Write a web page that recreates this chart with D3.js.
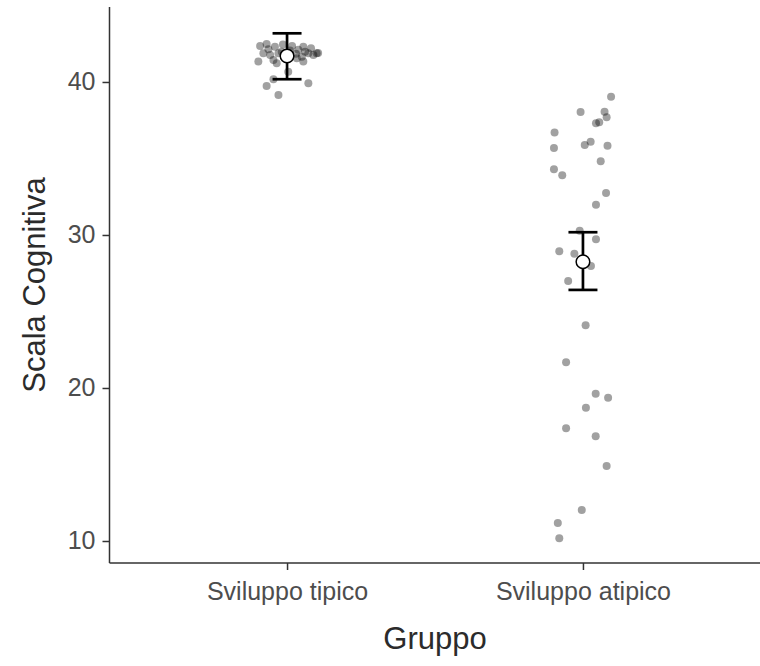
<!DOCTYPE html>
<html>
<head>
<meta charset="utf-8">
<script src="https://cdn.jsdelivr.net/npm/d3@7"></script>
<style>
  html, body { margin: 0; padding: 0; background: #fff; }
  svg { display: block; }
</style>
</head>
<body>
<svg id="chart" width="760" height="666"></svg>
<script>
// ---- data ----
const categories = ["Sviluppo tipico", "Sviluppo atipico"];
const yTicks = [10, 20, 30, 40];
const xTitle = "Gruppo";
const yTitle = "Scala Cognitiva";

const tipicoValues = [42.35, 42.48, 42.30, 41.87, 41.76, 41.87, 41.44, 41.33, 41.22, 40.67,
  42.30, 42.10, 41.87, 41.87, 41.76, 41.33, 41.55, 42.05, 41.70, 40.17,
  39.74, 39.91, 39.15, 42.14, 41.98, 41.98, 41.65, 42.35, 42.45, 42.20, 41.85, 41.90];
const tipicoJitter = [-0.091, -0.069, -0.041, -0.080, -0.057, -0.029, -0.046, -0.097, -0.035, 0.004,
  0.055, 0.038, 0.072, 0.100, 0.089, 0.055, 0.033, 0.010, -0.007, -0.046,
  -0.069, 0.072, -0.029, -0.063, -0.018, 0.061, 0.050, 0.017, -0.014, 0.081, 0.030, 0.105];

const atipicoValues = [39.04, 38.04, 38.06, 37.69, 37.30, 37.37, 36.69, 35.69, 35.88, 36.10,
  35.84, 34.82, 34.29, 33.90, 32.75, 31.98, 30.28, 29.72, 28.93, 28.78,
  27.97, 26.99, 24.10, 21.68, 19.63, 19.37, 18.71, 17.37, 16.84, 14.90,
  12.03, 11.18, 10.18];
const atipicoJitter = [0.095, -0.008, 0.073, 0.080, 0.044, 0.055, -0.096, -0.098, 0.006, 0.026,
  0.083, 0.060, -0.098, -0.070, 0.078, 0.044, -0.011, 0.044, -0.080, -0.029,
  0.027, -0.050, 0.009, -0.057, 0.043, 0.085, 0.010, -0.057, 0.043, 0.080,
  -0.004, -0.085, -0.080];

// group summaries (mean and error-bar limits)
const means = [41.70, 28.25];
const lower = [40.18, 26.41];
const upper = [43.18, 30.18];

// ---- layout ----
const svg = d3.select("#chart");
const plotLeft = 109.5, plotRight = 760.5, plotTop = 7, plotBottom = 563;

const y = d3.scaleLinear().domain([8.562, 44.90]).range([plotBottom, plotTop]);
const x = d3.scalePoint().domain(categories).range([plotLeft, plotRight]).padding(0.6);
const step = x.step();

const axisColor = "#333333";
const font = "'Liberation Sans', Arial, Helvetica, sans-serif";

// axes
const yAxis = svg.append("g")
  .attr("transform", `translate(${plotLeft},0)`)
  .call(d3.axisLeft(y).tickValues(yTicks).tickSize(7).tickPadding(7).tickSizeOuter(0));
const xAxis = svg.append("g")
  .attr("transform", `translate(0,${plotBottom})`)
  .call(d3.axisBottom(x).tickSize(7).tickPadding(12).tickSizeOuter(0));

[yAxis, xAxis].forEach(g => {
  g.select(".domain").attr("stroke", axisColor).attr("stroke-width", 1.5);
  g.selectAll(".tick line").attr("stroke", axisColor).attr("stroke-width", 1.5);
  g.selectAll(".tick text")
    .attr("fill", "#4d4d4d")
    .attr("font-family", font)
    .attr("font-size", 25);
});
yAxis.select(".domain").attr("d", `M0,${plotBottom}V${plotTop}`);
xAxis.select(".domain").attr("d", `M${plotLeft},0H${plotRight}`);

// axis titles
svg.append("text")
  .attr("x", (plotLeft + plotRight) / 2)
  .attr("y", 649)
  .attr("text-anchor", "middle")
  .attr("font-family", font)
  .attr("font-size", 31)
  .attr("fill", "#2b2b2b")
  .text(xTitle);

svg.append("text")
  .attr("transform", `translate(45,${(plotTop + plotBottom) / 2}) rotate(-90)`)
  .attr("text-anchor", "middle")
  .attr("font-family", font)
  .attr("font-size", 31)
  .attr("fill", "#2b2b2b")
  .text(yTitle);

// points
const groups = [
  { cat: categories[0], values: tipicoValues, jitter: tipicoJitter },
  { cat: categories[1], values: atipicoValues, jitter: atipicoJitter }
];
const pts = svg.append("g");
groups.forEach(gr => {
  pts.selectAll(null)
    .data(gr.values.map((v, i) => ({ v, j: gr.jitter[i] })))
    .enter().append("circle")
    .attr("cx", d => x(gr.cat) + d.j * step)
    .attr("cy", d => y(d.v))
    .attr("r", 4)
    .attr("fill", "#000")
    .attr("fill-opacity", 0.37);
});

// error bars and means
const capHalf = 0.049 * step;
const eb = svg.append("g");
categories.forEach((c, i) => {
  const cx = x(c);
  eb.append("line").attr("x1", cx).attr("x2", cx)
    .attr("y1", y(lower[i])).attr("y2", y(upper[i]))
    .attr("stroke", "#000").attr("stroke-width", 2.7);
  [lower[i], upper[i]].forEach(v => {
    eb.append("line").attr("x1", cx - capHalf).attr("x2", cx + capHalf)
      .attr("y1", y(v)).attr("y2", y(v))
      .attr("stroke", "#000").attr("stroke-width", 2.7);
  });
  eb.append("circle").attr("cx", cx).attr("cy", y(means[i]))
    .attr("r", 6.8).attr("fill", "#fff").attr("stroke", "#000").attr("stroke-width", 1.5);
});
</script>
</body>
</html>
